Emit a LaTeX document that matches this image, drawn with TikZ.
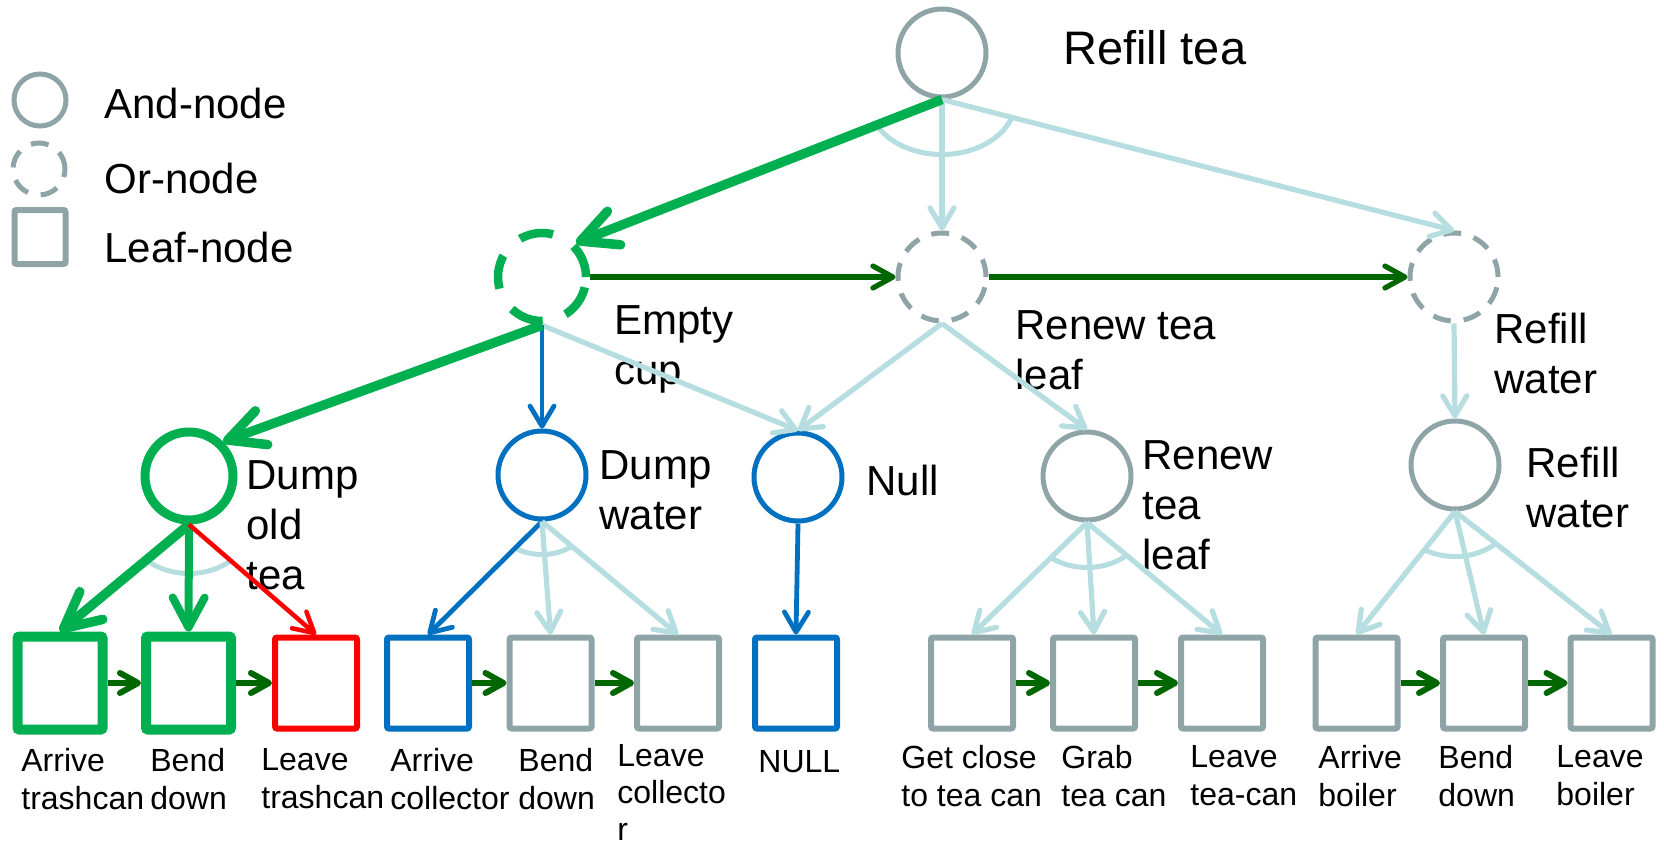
\documentclass[tikz,border=0pt]{standalone}
\usepackage{fontspec}
\setmainfont{Liberation Sans}
\usetikzlibrary{arrows.meta,calc}
\definecolor{cgreen}{HTML}{00B050}
\definecolor{cdark}{HTML}{006600}
\definecolor{cblue}{HTML}{0070C0}
\definecolor{cred}{HTML}{FF0000}
\definecolor{cgray}{HTML}{8EA4A7}
\definecolor{clight}{HTML}{B6DDE0}
\newcommand\andarc[5]{%
  \draw[andarc] let \p0=#1, \p1=($#2-#1$), \p2=($#3-#1$),
    \n1={atan2((#4/#5)*(\y1),\x1)}, \n2={atan2((#4/#5)*(\y2),\x2)} in
    (\p0) ++(\n1:#4pt and #5pt) arc[start angle=\n1, end angle=\n2, x radius=#4pt, y radius=#5pt];}
\begin{document}
\begin{tikzpicture}[x=0.5pt,y=-0.5pt,
  andnode/.style={circle, draw=cgray, line width=2.5pt, minimum size=44pt, inner sep=0pt},
  ornode/.style={andnode, dash pattern=on 9pt off 6.5pt},
  gandnode/.style={andnode, draw=cgreen, line width=4.5pt},
  gornode/.style={andnode, draw=cgreen, line width=4.25pt, dash pattern=on 17pt off 12pt},
  bandnode/.style={andnode, draw=cblue},
  leaf/.style={rectangle, draw=cgray, line width=3pt, minimum width=41pt, minimum height=45.5pt, inner sep=0pt, rounded corners=1pt},
  gleaf/.style={leaf, draw=cgreen, line width=5pt, minimum width=42.5pt, minimum height=46.5pt},
  bleaf/.style={leaf, draw=cblue},
  rleaf/.style={leaf, draw=cred},
  lbl/.style={anchor=north west, inner sep=0pt, align=left, font=\fontsize{21}{25}\selectfont},
  leaflbl/.style={anchor=north west, inner sep=0pt, align=left, font=\fontsize{16}{19}\selectfont},
  lb/.style={draw=clight, line width=2.6pt, -{Straight Barb[length=10pt,width=12pt,round]}},
  bl/.style={draw=cblue, line width=2.4pt, -{Straight Barb[length=10pt,width=12pt,round]}},
  gthick/.style={draw=cgreen, line width=4.75pt, -{Straight Barb[length=18pt,width=18pt,round]}},
  gmed/.style={draw=cgreen, line width=4pt, -{Straight Barb[length=15pt,width=16pt,round]}},
  rd/.style={draw=cred, line width=2.25pt, -{Straight Barb[length=10pt,width=11pt,round]}},
  seq/.style={draw=cdark, line width=3pt, -{Straight Barb[length=9pt,width=10pt,round]}},
  orseq/.style={draw=cdark, line width=2.6pt, -{Straight Barb[length=10pt,width=11pt,round]}},
  andarc/.style={draw=clight, line width=2.5pt}
]
\useasboundingbox (0,0) rectangle (1664,846);
% legend
\node[andnode, minimum size=26pt] (lgand) at (40,100) {};
\node[ornode, minimum size=26pt] (lgor) at (39,169) {};
\node[leaf, minimum width=25.5pt, minimum height=27pt] (lgleaf) at (40,237) {};
\node[lbl] (lgandt) at (104,88) {And-node};
\node[lbl] (lgort) at (104,163) {Or-node};
\node[lbl] (lgleaft) at (104,232) {Leaf-node};
% top
\node[andnode] (topand) at (942,53) {};
\node[lbl, font=\fontsize{23.5}{28}\selectfont] (toplbl) at (1063,30) {Refill tea};
% or nodes
\node[gornode] (emptyor) at (542,277) {};
\node[ornode] (renewor) at (942,277) {};
\node[ornode] (wateror) at (1454,277) {};
\node[lbl] (emptylbl) at (614,305) {Empty\\cup};
\node[lbl] (renewlbl) at (1015,310) {Renew tea\\leaf};
\node[lbl] (waterlbl) at (1494,313) {Refill\\water};
% and nodes
\node[gandnode] (dumptea) at (189,476) {};
\node[bandnode] (dumpwater) at (542,475) {};
\node[bandnode] (null) at (798,477) {};
\node[andnode] (renewand) at (1087,476) {};
\node[andnode] (waterand) at (1455,465) {};
\node[lbl] (dumptealbl) at (246,460) {Dump\\old\\tea};
\node[lbl] (dumpwaterlbl) at (599,450) {Dump\\water};
\node[lbl] (nulllbl) at (866,465) {Null};
\node[lbl] (renewandlbl) at (1142,440) {Renew\\tea\\leaf};
\node[lbl] (waterandlbl) at (1526,447) {Refill\\water};
% leaves
\node[gleaf] (b1) at (60,683) {};
\node[gleaf] (b2) at (188.5,683) {};
\node[rleaf] (b3) at (316,683) {};
\node[bleaf] (b4) at (428,683) {};
\node[leaf] (b5) at (550.5,683) {};
\node[leaf] (b6) at (678,683) {};
\node[bleaf] (b7) at (796,683) {};
\node[leaf] (b8) at (972,683) {};
\node[leaf] (b9) at (1094,683) {};
\node[leaf] (b10) at (1222,683) {};
\node[leaf] (b11) at (1356.5,683) {};
\node[leaf] (b12) at (1484,683) {};
\node[leaf] (b13) at (1611.5,683) {};
% leaf labels
\node[leaflbl] (t1) at (21,748) {Arrive\\trashcan};
\node[leaflbl] (t2) at (150,748) {Bend\\down};
\node[leaflbl] (t3) at (261,748) {Leave\\trashcan};
\node[leaflbl] (t4) at (390,748) {Arrive\\collector};
\node[leaflbl] (t5) at (518,748) {Bend\\down};
\node[leaflbl, font=\fontsize{16}{18.5}\selectfont] (t6) at (617,744) {Leave\\collecto\\r};
\node[leaflbl] (t7) at (758,750) {NULL};
\node[leaflbl] (t8) at (901,745) {Get close\\to tea can};
\node[leaflbl] (t9) at (1061,745) {Grab\\tea can};
\node[leaflbl] (t10) at (1190,745) {Leave\\tea-can};
\node[leaflbl] (t11) at (1318,745) {Arrive\\boiler};
\node[leaflbl] (t12) at (1438,745) {Bend\\down};
\node[leaflbl] (t13) at (1556,745) {Leave\\boiler};
% and arcs
\andarc{(topand.south)}{(emptyor.north east)}{(wateror.north)}{37}{27.5}
\andarc{(dumptea.south)}{(b1.north)}{(b3.north)}{31}{24.5}
\andarc{(dumpwater.south)}{(b4.north)}{(b6.north)}{22.5}{16.5}
\andarc{(renewand.south)}{(b8.north)}{(b10.north)}{29}{22.5}
\andarc{(waterand.south)}{(b11.north)}{(b13.north)}{29}{22.5}
% edges
\draw[lb] (topand.south) -- (renewor.north);
\draw[lb] (topand.south) -- (wateror.north);
\draw[gthick] (topand.south) -- (emptyor.north east);
\draw[orseq] (emptyor.east) -- (renewor.west);
\draw[orseq] (renewor.east) -- (wateror.west);
\draw[lb] (emptyor.south) -- (null.north);
\draw[bl] (emptyor.south) -- (dumpwater.north);
\draw[gthick] (emptyor.south) -- (dumptea.north east);
\draw[lb] (renewor.south) -- (null.north);
\draw[lb] (renewor.south) -- (renewand.north);
\draw[lb] (wateror.south) -- (waterand.north);
\draw[gthick] (dumptea.south) -- (b1.north);
\draw[gmed] (dumptea.south) -- (b2.north);
\draw[rd] (dumptea.south) -- (b3.north);
\draw[bl] (dumpwater.south) -- (b4.north);
\draw[lb] (dumpwater.south) -- (b5.north);
\draw[lb] (dumpwater.south) -- (b6.north);
\draw[bl] (null.south) -- (b7.north);
\draw[lb] (renewand.south) -- (b8.north);
\draw[lb] (renewand.south) -- (b9.north);
\draw[lb] (renewand.south) -- (b10.north);
\draw[lb] (waterand.south) -- (b11.north);
\draw[lb] (waterand.south) -- (b12.north);
\draw[lb] (waterand.south) -- (b13.north);
% sequence arrows
\draw[seq] (b1.east) -- (b2.west);
\draw[seq] (b2.east) -- (b3.west);
\draw[seq] (b4.east) -- (b5.west);
\draw[seq] (b5.east) -- (b6.west);
\draw[seq] (b8.east) -- (b9.west);
\draw[seq] (b9.east) -- (b10.west);
\draw[seq] (b11.east) -- (b12.west);
\draw[seq] (b12.east) -- (b13.west);
\end{tikzpicture}
\end{document}
